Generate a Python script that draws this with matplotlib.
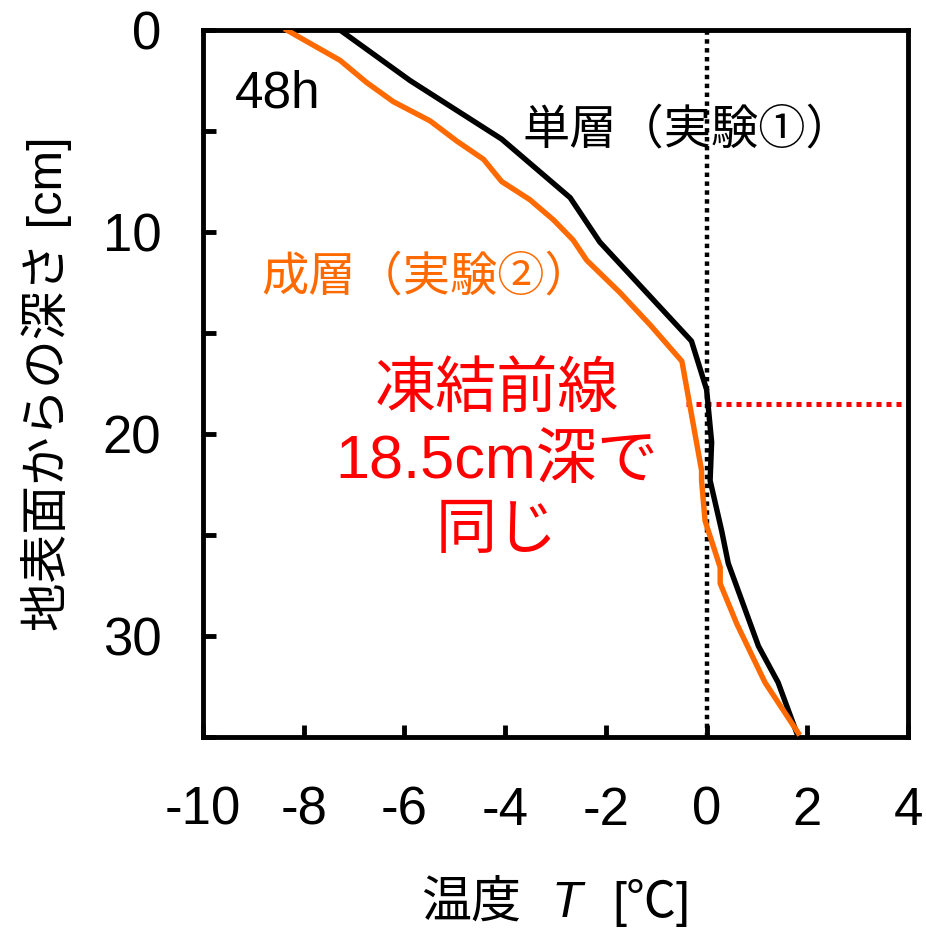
import matplotlib
matplotlib.use("Agg")
import matplotlib.pyplot as plt
from matplotlib.ticker import MultipleLocator
from matplotlib.offsetbox import TextArea, HPacker, AnchoredOffsetbox

FONTS = ['Liberation Sans', 'Noto Sans CJK JP', 'DejaVu Sans']
plt.rcParams['font.family'] = FONTS
plt.rcParams['axes.unicode_minus'] = False

# --- datos (48h) ---
depth_single = [0, 2.5, 5.4, 8.3, 10.5, 15.4, 17.8, 20.4, 22.3, 24.8, 26.4, 30.5, 32.3, 34.8]
temp_single = [-7.28, -5.89, -4.07, -2.71, -2.12, -0.30, 0.0, 0.10, 0.07, 0.30, 0.43, 1.03, 1.42, 1.79]

depth_layer = [0, 1.5, 2.6, 3.55, 4.5, 5.5, 6.4, 7.5, 8.4, 9.4, 10.4, 11.4, 13.0, 14.6,
               16.4, 21.8, 22.3, 24.3, 26.6, 27.4, 29.4, 32.3, 34.8]
temp_layer = [-8.34, -7.28, -6.75, -6.22, -5.49, -4.96, -4.43, -4.07, -3.51, -3.04, -2.65,
              -2.38, -1.72, -1.12, -0.49, -0.10, -0.10, -0.03, 0.27, 0.27, 0.60, 1.16, 1.82]

front_depth = 18.5
front_start = -0.4

x_ticks = [-10, -8, -6, -4, -2, 0, 2, 4]
y_ticks = [0, 10, 20, 30]

ORANGE = '#FF6A00'
RED = '#FF0000'

fig = plt.figure(figsize=(9.26, 9.34), dpi=100)
ax = fig.add_axes([0.2192, 0.2109, 0.7614, 0.757])

ax.plot(temp_single, depth_single, color='black', lw=3.9, zorder=3)
ax.plot(temp_layer, depth_layer, color=ORANGE, lw=3.9, zorder=4)

# linea de 0 grados y frente de congelamiento
ax.axvline(0, color='black', lw=3.2, linestyle=(0, (1, 1)), zorder=2)
ax.plot([front_start, 4], [front_depth, front_depth], color=RED, lw=3.6,
        linestyle=(0, (1, 1)), zorder=2)

ax.set_xlim(-10, 4)
ax.set_ylim(35, 0)
ax.set_xticks(x_ticks)
ax.set_yticks(y_ticks)
ax.yaxis.set_minor_locator(MultipleLocator(5))
ax.tick_params(axis='both', which='both', direction='in', width=3.5, length=9, labelsize=38)
ax.tick_params(axis='y', which='both', pad=30)
ax.tick_params(axis='x', which='major', pad=35)
for s in ax.spines.values():
    s.set_linewidth(3.5)

ax.set_ylabel('地表面からの深さ [cm]', fontsize=35, labelpad=22)

# etiqueta x con T en cursiva
parts = [TextArea('温度', textprops=dict(fontsize=36, family=FONTS)),
         TextArea('T', textprops=dict(fontsize=36, family=FONTS, style='italic')),
         TextArea('[℃]', textprops=dict(fontsize=36, family=FONTS))]
xlab = AnchoredOffsetbox(loc='center', child=HPacker(children=parts, pad=0, sep=22, align='baseline'),
                         bbox_to_anchor=(0.6, 1 - 903 / 934), bbox_transform=fig.transFigure,
                         frameon=False, pad=0, borderpad=0)
fig.add_artist(xlab)

ax.text(-9.36, 3.85, '48h', fontsize=37, color='black', va='baseline')
ax.text(-3.65, 5.0, '単層（実験①）', fontsize=34, color='black', va='center')
ax.text(-8.85, 12.3, '成層（実験②）', fontsize=34, color=ORANGE, va='center')
ax.text(-4.16, 21.4, '凍結前線\n18.5cm深で\n同じ', fontsize=44, color=RED,
        ha='center', va='center', linespacing=1.3)

fig.savefig('out.png', dpi=100)
